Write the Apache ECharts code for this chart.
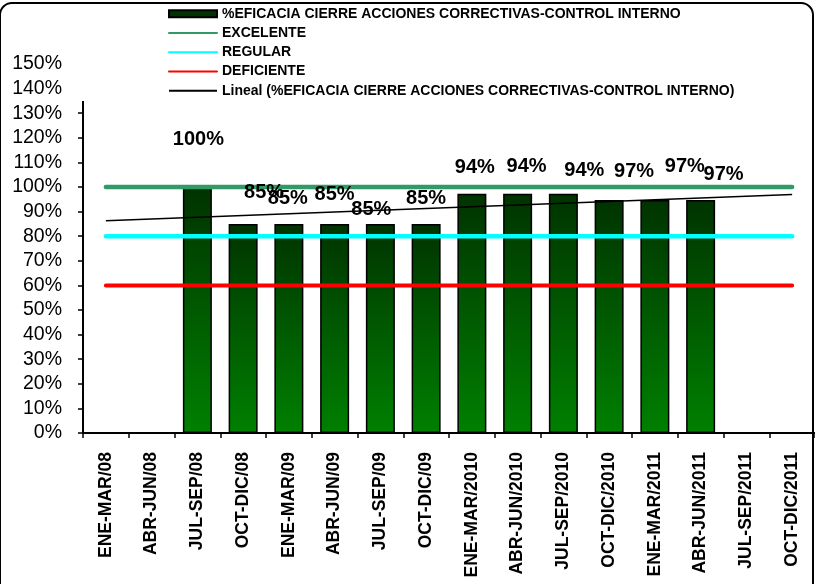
<!DOCTYPE html>
<html>
<head>
<meta charset="utf-8">
<script src="https://cdn.jsdelivr.net/npm/echarts@6/dist/echarts.min.js"></script>
<style>
html,body{margin:0;padding:0;background:#fff;}
#chart{width:815px;height:584px;}
</style>
</head>
<body>
<div id="chart"></div>
<script>
const categories = ['ENE-MAR/08','ABR-JUN/08','JUL-SEP/08','OCT-DIC/08','ENE-MAR/09','ABR-JUN/09','JUL-SEP/09','OCT-DIC/09','ENE-MAR/2010','ABR-JUN/2010','JUL-SEP/2010','OCT-DIC/2010','ENE-MAR/2011','ABR-JUN/2011','JUL-SEP/2011','OCT-DIC/2011'];
const eficacia = [null,null,100,85,85,85,85,85,97.3,97.3,97.3,94.7,94.7,94.7,null,null];
const barLabels = ['','','100%','85%','85%','85%','85%','85%','94%','94%','94%','97%','97%','97%','',''];
const excelente = [100,100,100,100,100,100,100,100,100,100,100,100,100,100,100,100];
const regular = [80,80,80,80,80,80,80,80,80,80,80,80,80,80,80,80];
const deficiente = [60,60,60,60,60,60,60,60,60,60,60,60,60,60,60,60];
const trendStart = 86.3;
const trendEnd = 97.0;
const seriesNames = ['%EFICACIA CIERRE ACCIONES CORRECTIVAS-CONTROL INTERNO','EXCELENTE','REGULAR','DEFICIENTE','Lineal (%EFICACIA CIERRE ACCIONES CORRECTIVAS-CONTROL INTERNO)'];

// label placement tweaks (style only)
const labelOffsets = [[0,0],[0,0],[1,-38],[21,-21],[-1,-15],[0,-19],[-9,-4],[0,-15],[3,-16],[9,-17],[21,-13],[25,-19],[30,-24],[23,-16],[0,0],[0,0]];

const FONT = 'Liberation Sans, Arial, sans-serif';
const chart = echarts.init(document.getElementById('chart'), null, {renderer:'canvas'});

const barData = eficacia.map(v=>v);
const labelData = eficacia.map((v,i)=>({value:v, label:{offset:labelOffsets[i]}}));

const option = {
  animation:false,
  backgroundColor:'#fff',
  textStyle:{fontFamily:FONT},
  grid:{left:83, top:64, width:736, height:369, containLabel:false},
  legend:{
    orient:'vertical', left:168, top:4, padding:0, itemGap:0,
    itemWidth:48, itemHeight:7, z:30,
    textStyle:{fontFamily:FONT, fontSize:14, fontWeight:'bold', color:'#000', lineHeight:19.3},
    data:[
      {name:seriesNames[0], icon:'rect', itemStyle:{color:'#003300', borderColor:'#000', borderWidth:2}},
      {name:seriesNames[1], lineStyle:{width:2}, itemStyle:{opacity:0}},
      {name:seriesNames[2], lineStyle:{width:2}, itemStyle:{opacity:0}},
      {name:seriesNames[3], lineStyle:{width:2}, itemStyle:{opacity:0}},
      {name:seriesNames[4], lineStyle:{width:2}, itemStyle:{opacity:0}}
    ]
  },
  xAxis:{
    type:'category', data:categories, boundaryGap:true,
    axisLine:{lineStyle:{color:'#000', width:2}},
    axisTick:{show:true, interval:0, length:5, lineStyle:{color:'#000', width:1.5}},
    axisLabel:{interval:0, rotate:90, margin:19, fontFamily:FONT, fontSize:17.5, fontWeight:'bold', color:'#000'}
  },
  yAxis:{
    type:'value', min:0, max:150, interval:10,
    axisLine:{show:true, lineStyle:{color:'#000', width:2}},
    axisTick:{show:true, length:5, lineStyle:{color:'#000', width:1.5}},
    splitLine:{show:false},
    axisLabel:{formatter:'{value}%', margin:21, fontFamily:FONT, fontSize:19.5, color:'#000'}
  },
  graphic:[
    {type:'rect', z:10, shape:{x:70, y:5, width:740, height:96}, style:{fill:'#fff'}},
    {type:'rect', z:40, shape:{x:0, y:3, width:813, height:640, r:12}, style:{fill:null, stroke:'#000', lineWidth:2}}
  ],
  series:[
    {
      name:seriesNames[0], type:'bar', data:barData, barWidth:29, z:2,
      itemStyle:{
        color:new echarts.graphic.LinearGradient(0,0,0,1,[{offset:0,color:'#003300'},{offset:1,color:'#008000'}]),
        borderColor:'#000', borderWidth:1.5
      }
    },
    {
      name:'labels', type:'bar', data:labelData, barWidth:29, barGap:'-100%', z:6, silent:true,
      itemStyle:{color:'rgba(0,0,0,0)', borderWidth:0},
      label:{
        show:true, position:'top', distance:0,
        fontFamily:FONT, fontSize:20, fontWeight:'bold', color:'#000',
        formatter:p=>barLabels[p.dataIndex]
      }
    },
    {name:seriesNames[1], type:'line', data:excelente, symbol:'none', z:3, color:'#339966',
      lineStyle:{color:'#339966', width:4.5, cap:'round'}},
    {name:seriesNames[2], type:'line', data:regular, symbol:'none', z:3, color:'#00FFFF',
      lineStyle:{color:'#00FFFF', width:4.5, cap:'round'}},
    {name:seriesNames[3], type:'line', data:deficiente, symbol:'none', z:3, color:'#FF0000',
      lineStyle:{color:'#FF0000', width:4, cap:'round'}},
    {name:seriesNames[4], type:'line', symbol:'none', z:3, color:'#000',
      data:[[categories[0], trendStart],[categories[categories.length-1], trendEnd]],
      lineStyle:{color:'#000', width:1.5}}
  ]
};
chart.setOption(option);
</script>
</body>
</html>
